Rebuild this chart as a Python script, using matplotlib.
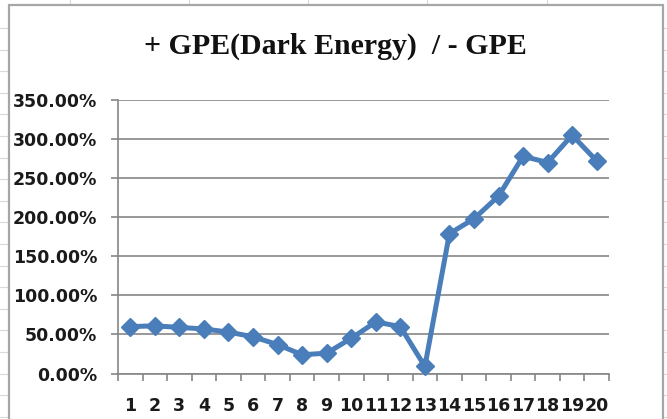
import numpy as np
import matplotlib
matplotlib.use("Agg")
import matplotlib.pyplot as plt
from matplotlib.lines import Line2D
from matplotlib.patches import Rectangle
from matplotlib.ticker import FixedLocator, FuncFormatter

W, H = 667, 419

# ratio of +GPE (dark energy) to -GPE, per step
steps = list(range(1, 21))
ratio_pct = [60, 61, 59, 57, 53, 47, 37, 24, 26, 45,
             66, 60, 9, 179, 198, 227, 278, 270, 305, 272]
y_ticks = [0, 50, 100, 150, 200, 250, 300, 350]
title = "+ GPE(Dark Energy)  / - GPE"

line_blue = "#4a7ebb"
grid_grey = "#868686"
sheet_grey = "#d9d9d9"


def fx(px):
    return px / W


def fy(py):
    return 1 - py / H


fig = plt.figure(figsize=(W / 100, H / 100), dpi=100)
fig.patch.set_facecolor("white")

# spreadsheet cell lines behind the chart
for x in [70, 189, 308, 427, 547]:
    fig.add_artist(Line2D([fx(x), fx(x)], [fy(0), fy(H)], color=sheet_grey,
                          lw=0.8, transform=fig.transFigure, zorder=0))
for y in np.arange(28, H, 21.6):
    fig.add_artist(Line2D([0, 1], [fy(y), fy(y)], color=sheet_grey,
                          lw=0.8, transform=fig.transFigure, zorder=0))

# chart area
fig.add_artist(Rectangle((fx(9), fy(430)), fx(663) - fx(9), fy(5.5) - fy(430),
                         facecolor="white", edgecolor="#a6a6a6", lw=1.6,
                         transform=fig.transFigure, zorder=1))

ax = fig.add_axes([fx(118), fy(373.5), fx(609) - fx(118), fy(100) - fy(373.5)])
ax.set_zorder(2)
ax.patch.set_alpha(0)

ax.plot(steps, ratio_pct, color=line_blue, lw=3.6, marker="D",
        markersize=9, markerfacecolor=line_blue, markeredgecolor=line_blue,
        solid_joinstyle="miter", zorder=3, clip_on=False)

ax.set_xlim(0.5, 20.5)
ax.set_ylim(0, 350)

ax.yaxis.set_major_locator(FixedLocator(y_ticks))
ax.yaxis.set_major_formatter(FuncFormatter(lambda v, _: f"{v:.2f}%"))
ax.grid(axis="y", color=grid_grey, lw=1.2, zorder=1)

# category boundaries carry the tick marks, labels sit at the centres
ax.xaxis.set_major_locator(FixedLocator(np.arange(0.5, 21, 1)))
ax.xaxis.set_major_formatter(FuncFormatter(lambda v, _: ""))
ax.xaxis.set_minor_locator(FixedLocator(steps))
ax.xaxis.set_minor_formatter(FuncFormatter(lambda v, _: f"{int(v)}"))

ax.tick_params(axis="x", which="major", length=5, width=1.2, color=grid_grey,
               direction="out")
ax.tick_params(axis="x", which="minor", length=0, pad=17)
ax.tick_params(axis="y", which="major", length=5, width=1.2, color=grid_grey,
               direction="out", pad=10)

for lab in ax.get_yticklabels() + ax.get_xticklabels(minor=True):
    lab.set_fontfamily("DejaVu Sans")
    lab.set_fontweight("bold")
    lab.set_fontsize(12.5)
    lab.set_color("#1a1a1a")

for side in ["top", "right"]:
    ax.spines[side].set_visible(False)
for side in ["left", "bottom"]:
    ax.spines[side].set_color(grid_grey)
    ax.spines[side].set_linewidth(1.2)

fig.text(fx(335), fy(46), title, ha="center", va="center",
         fontfamily="Liberation Serif", fontweight="bold", fontsize=21.5,
         color="#111111", zorder=3)

fig.savefig("out.png", dpi=100)
